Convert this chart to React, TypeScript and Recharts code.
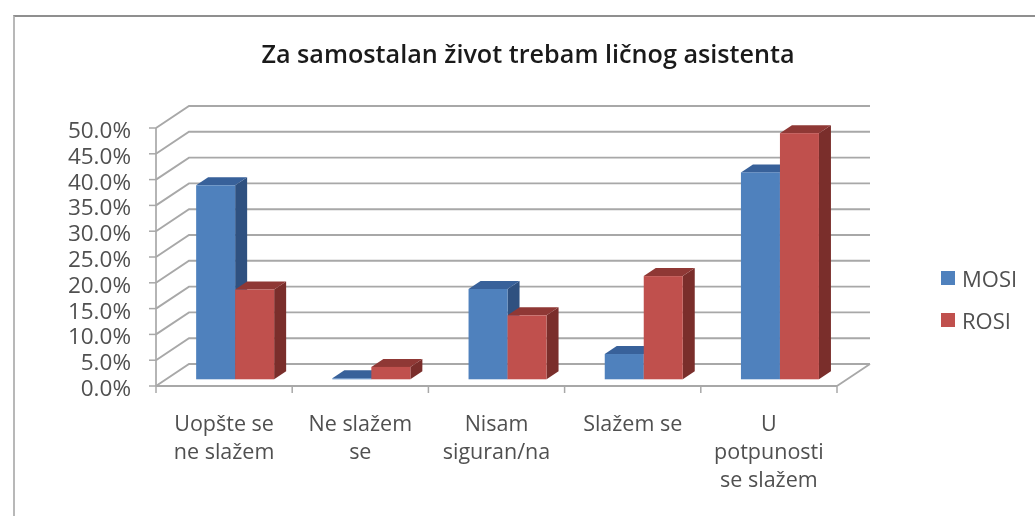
import React from "react";
import { Bar, BarChart, CartesianGrid, Legend, XAxis, YAxis } from "recharts";

const categories = [
  "Uopšte se\nne slažem",
  "Ne slažem\nse",
  "Nisam\nsiguran/na",
  "Slažem se",
  "U\npotpunosti\nse slažem",
];
const mosi = [37.6, 0.2, 17.5, 4.9, 40.1];
const rosi = [17.4, 2.4, 12.4, 20.0, 47.7];
const yTicks = [0, 5, 10, 15, 20, 25, 30, 35, 40, 45, 50];

const data = categories.map((name, i) => ({ name, MOSI: mosi[i], ROSI: rosi[i] }));

const FONT = "'Open Sans', sans-serif";
const TEXT = "#505050";
const AXIS = "#a8a8a8";
const WALL_DX = 33;
const WALL_DY = 22;
const BAND = 136.2;

function WallLine(props: any) {
  const { x1, x2, y1, index } = props;
  return (
    <g>
      <polyline
        points={`${x1},${y1} ${x1 + WALL_DX},${y1 - WALL_DY} ${x2 + WALL_DX},${y1 - WALL_DY}`}
        fill="none"
        stroke={AXIS}
        strokeWidth={1.9}
      />
      {index === 0 && (
        <line x1={x2} y1={y1} x2={x2 + WALL_DX} y2={y1 - WALL_DY} stroke={AXIS} strokeWidth={1.9} />
      )}
    </g>
  );
}

function Bar3D(props: any) {
  const { x, y, width, height, fill, side, top } = props;
  const ox = x + 11;
  const oy = y - 6.7;
  const dx = 12;
  const dy = 8;
  return (
    <g>
      <polygon
        points={`${ox + width},${oy} ${ox + width + dx},${oy - dy} ${ox + width + dx},${oy + height - dy} ${ox + width},${oy + height}`}
        fill={side}
      />
      <polygon
        points={`${ox},${oy} ${ox + dx},${oy - dy} ${ox + width + dx},${oy - dy} ${ox + width},${oy}`}
        fill={top}
      />
      <rect x={ox} y={oy} width={width} height={height} fill={fill} />
    </g>
  );
}

function CategoryTick(props: any) {
  const { x, y, payload, index } = props;
  const lines = String(payload.value).split("\n");
  // tick y sits 8px under the axis line, marks go on the band edges
  const axisY = y - 8;
  return (
    <g>
      <line x1={x - BAND / 2} y1={axisY} x2={x - BAND / 2} y2={axisY + 7} stroke={AXIS} strokeWidth={1.5} />
      {index === categories.length - 1 && (
        <line x1={x + BAND / 2} y1={axisY} x2={x + BAND / 2} y2={axisY + 7} stroke={AXIS} strokeWidth={1.5} />
      )}
      {lines.map((line, i) => (
        <text
          key={line}
          x={x}
          y={y + 37 + i * 28}
          textAnchor="middle"
          fontFamily={FONT}
          fontSize={21.5}
          fill={TEXT}
        >
          {line}
        </text>
      ))}
    </g>
  );
}

function LegendList(props: any) {
  return (
    <div>
      {props.payload.map((item: any) => (
        <div
          key={item.value}
          style={{ display: "flex", alignItems: "center", height: 42, fontFamily: FONT, fontSize: 22, color: TEXT }}
        >
          <span style={{ width: 14, height: 14, background: item.color, marginRight: 7 }} />
          {item.value}
        </div>
      ))}
    </div>
  );
}

export default function App() {
  return (
    <div style={{ position: "absolute", left: 0, top: 0, width: 1035, height: 516, overflow: "hidden", background: "#fff", filter: "blur(0.7px)" }}>
      <div
        style={{
          position: "absolute",
          left: 13,
          top: 15,
          right: -4,
          bottom: -4,
          borderTop: "2px solid #8f8f8f",
          borderLeft: "2px solid #b8b8b8",
        }}
      />
      <BarChart
        width={1035}
        height={516}
        data={data}
        margin={{ top: 128, right: 104, bottom: 0, left: 0 }}
        barCategoryGap="21.4%"
        barGap={0}
        style={{ position: "absolute", left: 0, top: 0 }}
      >
        <text x={528} y={63} textAnchor="middle" fontFamily={FONT} fontSize={25.2} fontWeight={600} fill="#1a1a1a">
          Za samostalan život trebam ličnog asistenta
        </text>
        <CartesianGrid horizontal={WallLine} vertical={false} />
        <XAxis
          dataKey="name"
          height={130}
          interval={0}
          axisLine={{ stroke: AXIS, strokeWidth: 1.9 }}
          tickLine={false}
          tick={CategoryTick}
        />
        <YAxis
          width={156}
          domain={[0, 50]}
          ticks={yTicks}
          interval={0}
          axisLine={{ stroke: AXIS, strokeWidth: 1.7 }}
          tickLine={{ stroke: AXIS, strokeWidth: 1.5 }}
          tickSize={7}
          tickMargin={18}
          tickFormatter={(v: number) => v.toFixed(1) + "%"}
          tick={{ fill: TEXT, fontSize: 22.5, fontFamily: FONT, dy: 2 }}
        />
        <Legend
          layout="vertical"
          align="right"
          verticalAlign="top"
          width={94}
          content={LegendList}
          wrapperStyle={{ top: 257, right: 0, left: "auto" }}
        />
        <Bar
          dataKey="MOSI"
          fill="#4f81bd"
          isAnimationActive={false}
          shape={(p: any) => <Bar3D {...p} side="#2f5180" top="#38619a" />}
        />
        <Bar
          dataKey="ROSI"
          fill="#c0504d"
          isAnimationActive={false}
          shape={(p: any) => <Bar3D {...p} side="#7a2e2b" top="#8f3835" />}
        />
      </BarChart>
    </div>
  );
}
